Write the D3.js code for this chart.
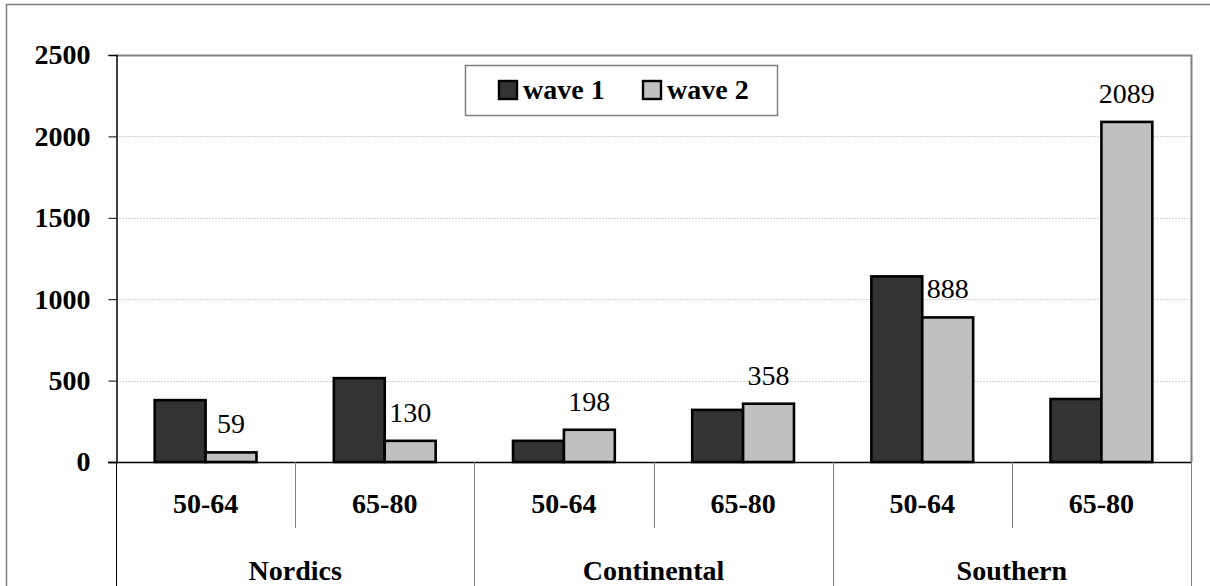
<!DOCTYPE html>
<html>
<head>
<meta charset="utf-8">
<script src="https://cdn.jsdelivr.net/npm/d3@7"></script>
<style>
  body { margin: 0; background: #fff; }
</style>
</head>
<body>
<script>
// chart values
var regions = ["Nordics", "Continental", "Southern"];
var ageGroups = ["50-64", "65-80"];
var seriesNames = ["wave 1", "wave 2"];
var wave1 = [380, 515, 130, 320, 1140, 387];
var wave2 = [59, 130, 198, 358, 888, 2089];
var yTicks = [0, 500, 1000, 1500, 2000, 2500];

var width = 1210;
var height = 586;
var colors = ["#333333", "#c0c0c0"];
var serif = '"Liberation Serif", "Times New Roman", serif';

var svg = d3.select('body').append('svg')
  .attr('width', width)
  .attr('height', height)
  .attr('font-family', serif);

// outer chart frame (runs off the right and bottom edges)
svg.append('rect')
  .attr('x', 6.5).attr('y', 4.5)
  .attr('width', 1220).attr('height', 600)
  .attr('fill', 'none')
  .attr('stroke', '#7f7f7f')
  .attr('stroke-width', 1.5);

// plot area edges
var plotLeft = 116, plotRight = 1191, plotTop = 55, plotBottom = 462;

// build the flat list of region/age slots
var slots = [];
regions.forEach(function(r, i) {
  ageGroups.forEach(function(a, j) {
    var k = i * ageGroups.length + j;
    slots.push({ key: r + '|' + a, region: r, age: a, values: [wave1[k], wave2[k]] });
  });
});

var x0 = d3.scaleBand()
  .domain(slots.map(function(d) { return d.key; }))
  .range([plotLeft, plotRight])
  .paddingInner(0).paddingOuter(0);

var x1 = d3.scaleBand()
  .domain(seriesNames)
  .range([0, x0.bandwidth()])
  .paddingInner(0)
  .paddingOuter(0.76);

var y = d3.scaleLinear().domain([0, 2500]).range([plotBottom, plotTop]);

// grid lines
svg.append('g').selectAll('line')
  .data(yTicks.filter(function(t) { return t > 0 && t < 2500; }))
  .enter().append('line')
  .attr('x1', plotLeft).attr('x2', plotRight)
  .attr('y1', function(d) { return Math.round(y(d)) + 0.5; })
  .attr('y2', function(d) { return Math.round(y(d)) + 0.5; })
  .attr('stroke', '#d4d4d4')
  .attr('stroke-dasharray', '2,1');

// plot area border: top and right in grey
svg.append('path')
  .attr('d', 'M' + plotLeft + ',' + (plotTop + 0.5) + 'H' + (plotRight + 0.5) + 'V' + plotBottom)
  .attr('fill', 'none')
  .attr('stroke', '#808080')
  .attr('stroke-width', 2);

// bars
var slotG = svg.append('g').selectAll('g')
  .data(slots)
  .enter().append('g')
  .attr('transform', function(d) { return 'translate(' + x0(d.key) + ',0)'; });

slotG.selectAll('rect')
  .data(function(d) { return d.values.map(function(v, i) { return { name: seriesNames[i], v: v, i: i }; }); })
  .enter().append('rect')
  .attr('x', function(d) { return x1(d.name); })
  .attr('y', function(d) { return y(d.v); })
  .attr('width', x1.bandwidth())
  .attr('height', function(d) { return plotBottom - y(d.v); })
  .attr('fill', function(d) { return colors[d.i]; })
  .attr('stroke', '#000')
  .attr('stroke-width', 2.6);

// value labels on wave 2 only
slotG.append('text')
  .attr('x', function() { return x1('wave 2') + x1.bandwidth() / 2; })
  .attr('y', function(d) { return y(d.values[1]) - 19; })
  .attr('text-anchor', 'middle')
  .attr('font-family', serif)
  .attr('font-size', 28)
  .text(function(d) { return d.values[1]; });

// y axis
var yAxis = d3.axisLeft(y).tickValues(yTicks).tickFormat(d3.format('d')).tickSize(8).tickPadding(18);
var yG = svg.append('g')
  .attr('transform', 'translate(' + (plotLeft + 0.5) + ',0)')
  .call(yAxis);
yG.attr('font-family', serif);
yG.select('.domain').attr('stroke', '#000').attr('stroke-width', 1.5);
yG.selectAll('.tick line').attr('stroke', '#000');
yG.selectAll('.tick text')
  .attr('font-size', 28)
  .attr('font-weight', 'bold')
  .attr('fill', '#000');

// category axis line
svg.append('line')
  .attr('x1', plotLeft - 8).attr('x2', plotRight)
  .attr('y1', plotBottom + 0.5).attr('y2', plotBottom + 0.5)
  .attr('stroke', '#000').attr('stroke-width', 1.5);

// separators between age slots (short) and regions (full height)
var bounds = slots.map(function(d) { return x0(d.key); }).concat([plotRight]);
svg.append('g').selectAll('line')
  .data(bounds)
  .enter().append('line')
  .attr('x1', function(d) { return Math.round(d) + 0.5; })
  .attr('x2', function(d) { return Math.round(d) + 0.5; })
  .attr('y1', plotBottom)
  .attr('y2', function(d, i) { return i % ageGroups.length === 0 ? height : 528; })
  .attr('stroke', function(d, i) { return i === 0 ? '#000' : '#808080'; })
  .attr('stroke-width', 1);

// age labels
svg.append('g').selectAll('text')
  .data(slots)
  .enter().append('text')
  .attr('x', function(d) { return x0(d.key) + x0.bandwidth() / 2; })
  .attr('y', 513)
  .attr('text-anchor', 'middle')
  .attr('font-size', 28)
  .attr('font-weight', 'bold')
  .text(function(d) { return d.age; });

// region labels
svg.append('g').selectAll('text')
  .data(regions)
  .enter().append('text')
  .attr('x', function(d) {
    var a = x0(d + '|' + ageGroups[0]);
    return a + x0.bandwidth();
  })
  .attr('y', 580)
  .attr('text-anchor', 'middle')
  .attr('font-size', 28)
  .attr('font-weight', 'bold')
  .text(function(d) { return d; });

// legend
var legend = svg.append('g');
legend.append('rect')
  .attr('x', 465.5).attr('y', 65.5)
  .attr('width', 312).attr('height', 50)
  .attr('fill', '#fff')
  .attr('stroke', '#808080')
  .attr('stroke-width', 1.5);

var legendX = [499, 643];
var item = legend.selectAll('g.item')
  .data(seriesNames)
  .enter().append('g')
  .attr('class', 'item')
  .attr('transform', function(d, i) { return 'translate(' + legendX[i] + ',81)'; });
item.append('rect')
  .attr('width', 18).attr('height', 18)
  .attr('fill', function(d, i) { return colors[i]; })
  .attr('stroke', '#000')
  .attr('stroke-width', 2.4);
item.append('text')
  .attr('x', 24).attr('y', 18)
  .attr('font-size', 28)
  .attr('font-weight', 'bold')
  .text(function(d) { return d; });
</script>
</body>
</html>
